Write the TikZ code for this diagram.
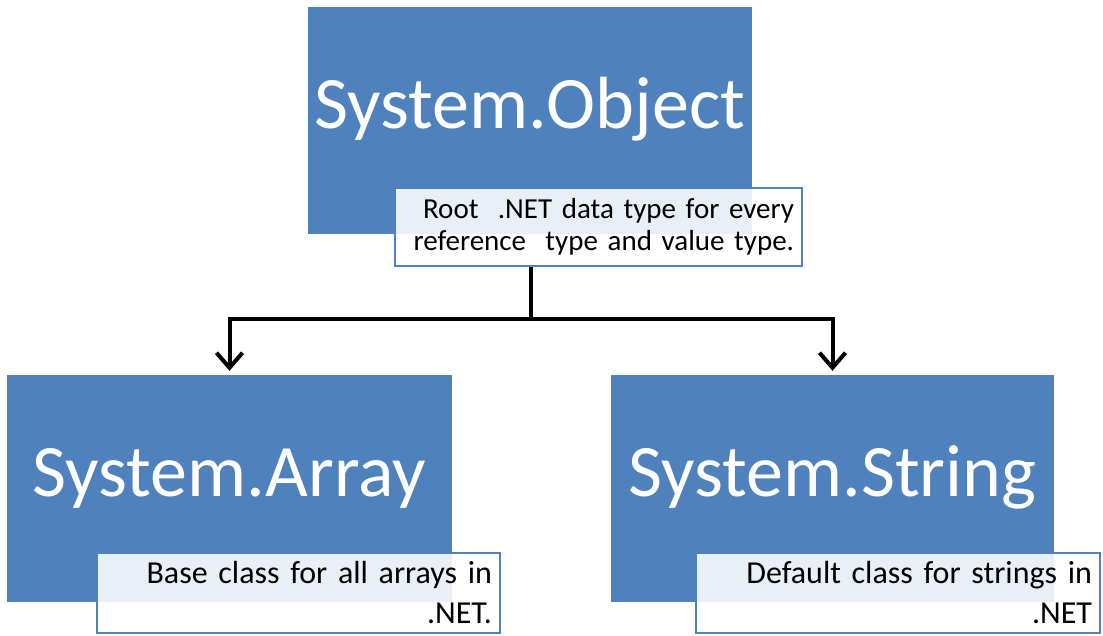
\documentclass[tikz,border=0pt]{standalone}
\usepackage{fontspec}
\setmainfont{Carlito}
\usetikzlibrary{arrows.meta,positioning}
\definecolor{boxblue}{HTML}{4F81BD}

\begin{document}
\begin{tikzpicture}[x=1pt, y=-1pt,
  cls/.style={rectangle, fill=boxblue, text=white, minimum height=227pt, inner sep=0pt,
    text height=121pt, text depth=106pt, font=\fontsize{74}{88}\selectfont},
  note/.style={rectangle, draw=boxblue, line width=2.6pt, fill=white, fill opacity=0.88, text opacity=1,
    align=right, inner xsep=7pt, inner ysep=0pt, text=black},
  arrow/.style={-{Straight Barb[length=15pt, width=26pt]}, line width=4pt, shorten >=4pt},
]
\useasboundingbox (0,0) rectangle (1103,635);

% === Class boxes ===
\node[cls, minimum width=444pt] (obj) at (530,120.5) {System.Object};
\node[cls, minimum width=445pt] (arr) at (229.5,488.5) {System.Array};
\node[cls, minimum width=443pt] (str) at (832.5,488.5) {System.String};

% === Descriptions ===
\node[note, minimum width=407pt, minimum height=78pt, text width=391pt, font=\fontsize{29}{32}\selectfont]
  (objnote) at (598.5,227) {Root\ \ .NET data type for every\\reference\ \ type and value type.};
\node[note, minimum width=403pt, minimum height=80pt, text width=387pt, font=\fontsize{32}{40}\selectfont]
  (arrnote) at (298.5,593) {Base class for all arrays in\\.NET.};
\node[note, minimum width=404pt, minimum height=80pt, text width=388pt, font=\fontsize{32}{40}\selectfont]
  (strnote) at (898,593) {Default class for strings in\\.NET};

% === Inheritance arrows ===
\coordinate (split) at (531,319);
\draw[line width=4pt] (objnote.south -| split) -- (split);
\draw[arrow] (split) -| (arr);
\draw[arrow] (split) -| (str);

\end{tikzpicture}
\end{document}
